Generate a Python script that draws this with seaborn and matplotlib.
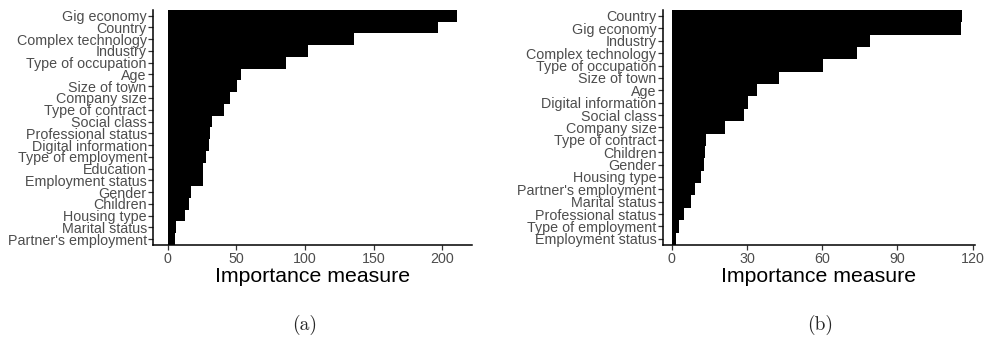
import matplotlib
matplotlib.use("Agg")
import matplotlib.pyplot as plt
import seaborn as sns
import pandas as pd

# Variable importance, model (a)
labels_a = ["Gig economy", "Country", "Complex technology", "Industry",
            "Type of occupation", "Age", "Size of town", "Company size",
            "Type of contract", "Social class", "Professional status",
            "Digital information", "Type of employment", "Education",
            "Employment status", "Gender", "Children", "Housing type",
            "Marital status", "Partner's employment"]
values_a = [211, 197, 136, 102, 86.5, 53.5, 50.5, 45.5, 41, 32.3, 30.8,
            30.1, 27.9, 25.7, 25.7, 17, 15.5, 12.6, 6.1, 5.3]

# Variable importance, model (b)
labels_b = ["Country", "Gig economy", "Industry", "Complex technology",
            "Type of occupation", "Size of town", "Age", "Digital information",
            "Social class", "Company size", "Type of contract", "Children",
            "Gender", "Housing type", "Partner's employment", "Marital status",
            "Professional status", "Type of employment", "Employment status"]
values_b = [115.6, 115.2, 79.1, 73.8, 60.2, 42.7, 33.9, 30.3, 28.7, 21.1,
            13.6, 13.2, 12.8, 11.6, 9.2, 7.6, 4.8, 2.8, 1.6]

ticks_a = [0, 50, 100, 150, 200]
ticks_b = [0, 30, 60, 90, 120]

sns.set_theme(style="white")
plt.rcParams["font.family"] = ["Liberation Sans", "DejaVu Sans"]

W, H = 990, 338
fig = plt.figure(figsize=(W / 100, H / 100), dpi=100)
ax_a = fig.add_axes([153 / W, 1 - 245 / H, (472 - 153) / W, (245 - 9.8) / H])
ax_b = fig.add_axes([662.7 / W, 1 - 245 / H, (975 - 662.7) / W, (245 - 9.8) / H])


def panel(ax, labels, values, ticks, xlim, caption, caption_x):
    df = pd.DataFrame({"variable": labels, "importance": values})
    sns.barplot(data=df, x="importance", y="variable", orient="h",
                color="black", saturation=1, width=1.0, linewidth=0, ax=ax)
    ax.set_ylim(len(labels) - 0.5, -0.5)
    ax.set_xlim(*xlim)
    ax.set_xticks(ticks)
    ax.set_xticklabels([str(t) for t in ticks])
    ax.set_ylabel("")
    ax.set_xlabel("Importance measure", fontsize=15.3, color="black", labelpad=1)
    for side in ("top", "right"):
        ax.spines[side].set_visible(False)
    for side in ("left", "bottom"):
        ax.spines[side].set_color("black")
        ax.spines[side].set_linewidth(1.1)
    ax.tick_params(axis="both", which="major", length=3.5, width=0.9,
                   color="#333333", labelcolor="#4D4D4D", labelsize=10.3, pad=1.5,
                   left=True, bottom=True)
    ax.tick_params(axis="y", pad=1.0)
    ax.grid(False)
    fig.text(caption_x / W, 1 - 325 / H, caption, ha="center",
             va="center", fontsize=14, fontname="cmr10")


panel(ax_a, labels_a, values_a, ticks_a, (-10.6, 221.6), "(a)", 305)
panel(ax_b, labels_b, values_b, ticks_b, (-3.6, 120.9), "(b)", 820)

fig.savefig("out.png", dpi=100)
